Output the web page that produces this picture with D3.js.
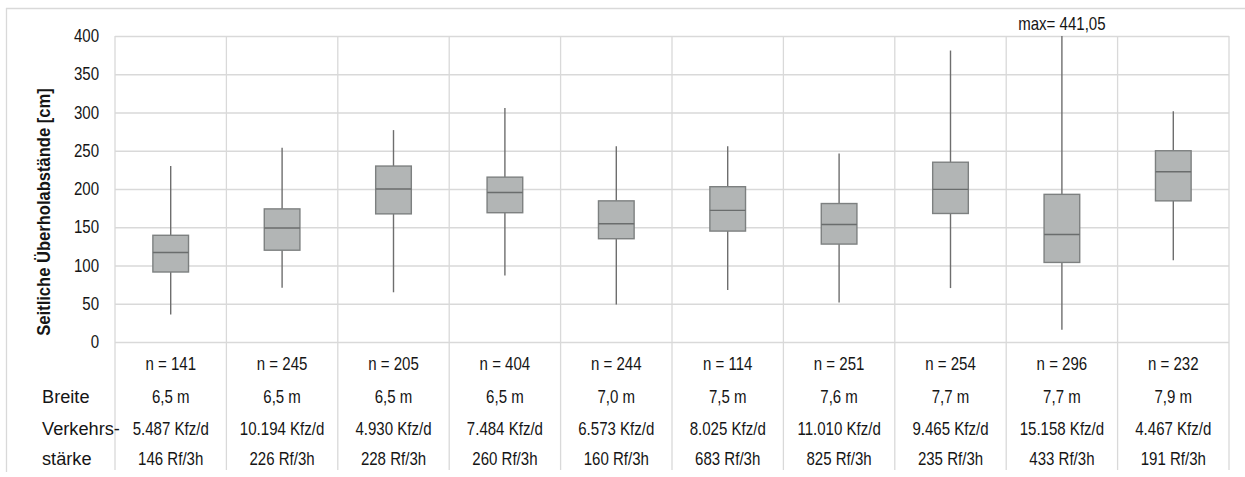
<!DOCTYPE html>
<html>
<head>
<meta charset="utf-8">
<script src="https://cdn.jsdelivr.net/npm/d3@7"></script>
<style>
  html, body { margin: 0; padding: 0; background: #fff; }
  svg { display: block; font-family: "Liberation Sans", Arial, sans-serif; }
</style>
</head>
<body>
<svg id="chart" width="1245" height="477"></svg>
<script>
// ---- data ----
const categories = ["A1", "A2", "A3", "A4", "A5", "A6", "A7", "A8", "A9", "A10"];
const whiskerLow  = [36,    71,   65,   87,    49,    68,   51.5,  70.5, 16,     107];
const q1Values    = [91.5,  120,  167.5, 169,  135,   145,  128,   168,  104,    184.5];
const medianValues= [117,   149,  200,  195.5, 154.5, 172,  153.5, 199.5, 140.5, 222.5];
const q3Values    = [139.5, 174,  230,  215.5, 184.5, 203,  181,   235,  193,    250];
const whiskerHigh = [230,   254,  277,  306,   256,   256,  246.5, 381,  441.05, 301.5];
const nLabels     = ["n = 141", "n = 245", "n = 205", "n = 404", "n = 244", "n = 114", "n = 251", "n = 254", "n = 296", "n = 232"];
const breiteLabels= ["6,5 m", "6,5 m", "6,5 m", "6,5 m", "7,0 m", "7,5 m", "7,6 m", "7,7 m", "7,7 m", "7,9 m"];
const kfzLabels   = ["5.487 Kfz/d", "10.194 Kfz/d", "4.930 Kfz/d", "7.484 Kfz/d", "6.573 Kfz/d", "8.025 Kfz/d", "11.010 Kfz/d", "9.465 Kfz/d", "15.158 Kfz/d", "4.467 Kfz/d"];
const rfLabels    = ["146 Rf/3h", "226 Rf/3h", "228 Rf/3h", "260 Rf/3h", "160 Rf/3h", "683 Rf/3h", "825 Rf/3h", "235 Rf/3h", "433 Rf/3h", "191 Rf/3h"];
const yTicks      = [0, 50, 100, 150, 200, 250, 300, 350, 400];
const rowLabels   = ["Breite", "Verkehrs-", "stärke"];
const yTitle      = "Seitliche Überholabstände [cm]";
const maxNote     = "max= 441,05";
const maxNoteIndex = 8;

// ---- layout ----
const plotLeft = 115, plotRight = 1229, plotTop = 36, zeroY = 342, tableBottom = 470;
const gridColor = "#d9d9d9";
const textColor = "#151515";
const sx = 0.86;

const svg = d3.select("#chart");

const x = d3.scaleBand().domain(categories).range([plotLeft, plotRight]).padding(0);
const y = d3.scaleLinear().domain([0, 400]).range([zeroY, plotTop]).clamp(true);

// outer frame (top + left)
svg.append("line").attr("x1", 6).attr("x2", 1245).attr("y1", 8.5).attr("y2", 8.5)
  .attr("stroke", gridColor).attr("stroke-width", 1.3);
svg.append("line").attr("x1", 6.5).attr("x2", 6.5).attr("y1", 8).attr("y2", 472)
  .attr("stroke", gridColor).attr("stroke-width", 1.3);

// horizontal gridlines via axis
const yAxis = d3.axisLeft(y).tickValues(yTicks).tickSize(-(plotRight - plotLeft)).tickPadding(18.6)
  .tickFormat(d3.format("d"));
const gy = svg.append("g").attr("transform", `translate(${plotLeft},0)`).call(yAxis);
gy.select(".domain").remove();
gy.selectAll(".tick line").attr("stroke", gridColor).attr("stroke-width", 1.3);
gy.selectAll(".tick text")
  .attr("fill", textColor).style("font-size", "17.5px")
  .attr("transform", `scale(${sx},1)`);

// vertical gridlines at band edges
const edges = categories.map(c => x(c)).concat([plotRight]);
svg.append("g").selectAll("line").data(edges).join("line")
  .attr("x1", d => d).attr("x2", d => d)
  .attr("y1", plotTop).attr("y2", tableBottom)
  .attr("stroke", gridColor).attr("stroke-width", 1.3);

// boxes
const bw = x.bandwidth() * 0.32;
const g = svg.append("g");
categories.forEach((c, i) => {
  const cx = x(c) + x.bandwidth() / 2;
  g.append("line").attr("x1", cx).attr("x2", cx)
    .attr("y1", y(whiskerHigh[i])).attr("y2", y(q3Values[i]))
    .attr("stroke", "#6e6e6e").attr("stroke-width", 1.4);
  g.append("line").attr("x1", cx).attr("x2", cx)
    .attr("y1", y(q1Values[i])).attr("y2", y(whiskerLow[i]))
    .attr("stroke", "#6e6e6e").attr("stroke-width", 1.4);
  g.append("rect").attr("x", cx - bw / 2).attr("width", bw)
    .attr("y", y(q3Values[i])).attr("height", y(q1Values[i]) - y(q3Values[i]))
    .attr("fill", "#b2b5b5").attr("stroke", "#7d8080").attr("stroke-width", 1.4);
  g.append("line").attr("x1", cx - bw / 2).attr("x2", cx + bw / 2)
    .attr("y1", y(medianValues[i])).attr("y2", y(medianValues[i]))
    .attr("stroke", "#6a6d6d").attr("stroke-width", 1.4);
});

// max annotation
{
  const c = categories[maxNoteIndex];
  const cx = x(c) + x.bandwidth() / 2;
  svg.append("text").attr("transform", `translate(${cx},30) scale(${sx},1)`)
    .attr("text-anchor", "middle").attr("fill", textColor).style("font-size", "17.5px")
    .text(maxNote);
}

// y-axis title
svg.append("text")
  .attr("transform", `translate(50,212) rotate(-90) scale(0.92,1)`)
  .attr("text-anchor", "middle").attr("fill", textColor)
  .style("font-size", "18px").style("font-weight", "bold")
  .text(yTitle);

// table rows
const rows = [
  { labels: nLabels, yb: 369.5 },
  { labels: breiteLabels, yb: 403 },
  { labels: kfzLabels, yb: 434.5 },
  { labels: rfLabels, yb: 465 }
];
rows.forEach(r => {
  svg.append("g").selectAll("text").data(categories).join("text")
    .attr("transform", (c) => `translate(${x(c) + x.bandwidth() / 2},${r.yb}) scale(${sx},1)`)
    .attr("text-anchor", "middle").attr("fill", textColor).style("font-size", "17.5px")
    .text((c, i) => r.labels[i]);
});

// left row labels
const labelY = [403, 434.5, 465];
rowLabels.forEach((t, i) => {
  svg.append("text").attr("transform", `translate(42,${labelY[i]}) scale(1.04,1)`)
    .attr("fill", textColor).style("font-size", "17.5px").text(t);
});
</script>
</body>
</html>
